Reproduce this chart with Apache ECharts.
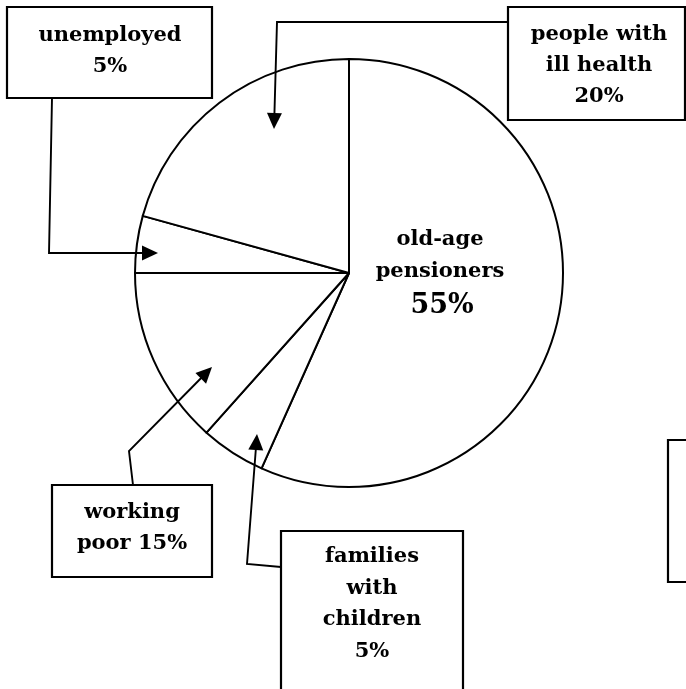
<!DOCTYPE html>
<html>
<head>
<meta charset="utf-8">
<script src="https://cdn.jsdelivr.net/npm/echarts@6/dist/echarts.min.js"></script>
<style>
html,body{margin:0;padding:0;background:#fff;}
#chart{width:686px;height:689px;}
</style>
</head>
<body>
<div id="chart"></div>
<script>
// slice order clockwise from 12 o'clock
const categories = ['old-age pensioners', 'families with children', 'working poor', 'unemployed', 'people with ill health'];
const shares = [56.7, 4.9, 13.4, 4.3, 20.7];
const boxTexts = ['old-age\npensioners', 'families\nwith\nchildren\n5%', 'working\npoor 15%', 'unemployed\n5%', 'people with\nill health\n20%'];
const mainShareText = '55%';

const FONT = 'DejaVu Serif';
const chart = echarts.init(document.getElementById('chart'), null, {renderer: 'canvas'});

function arrow(pts) {
  const els = [];
  const n = pts.length;
  const tip = pts[n - 1], prev = pts[n - 2];
  const dx = tip[0] - prev[0], dy = tip[1] - prev[1];
  const len = Math.sqrt(dx * dx + dy * dy);
  const ux = dx / len, uy = dy / len;
  const L = 16, W = 7.5;
  const bx = tip[0] - ux * L, by = tip[1] - uy * L;
  const linePts = pts.slice(0, n - 1).concat([[bx + ux * 2, by + uy * 2]]);
  els.push({type: 'polyline', z: 100, shape: {points: linePts}, style: {stroke: '#000', lineWidth: 1.9, fill: null}, silent: true});
  els.push({type: 'polygon', z: 100, shape: {points: [tip, [bx - uy * W, by + ux * W], [bx + uy * W, by - ux * W]]}, style: {fill: '#000', stroke: null}, silent: true});
  return els;
}
function box(x, y, w, h) {
  return {type: 'rect', z: 90, shape: {x: x, y: y, width: w, height: h}, style: {fill: '#fff', stroke: '#000', lineWidth: 2.2}, silent: true};
}
function text(t, x, y, size, lh) {
  return {type: 'text', z: 110, x: x, y: y, silent: true,
    style: {text: t, fill: '#000', font: 'bold ' + size + 'px "' + FONT + '"', align: 'center', verticalAlign: 'middle', lineHeight: lh}};
}

const graphics = [].concat(
  [box(7, 7, 205, 91), box(508, 7, 177, 113), box(52, 485, 160, 92), box(281, 531, 182, 200), box(668, 440, 40, 142)],
  arrow([[508, 22], [277, 22], [274, 129]]),
  arrow([[52, 98], [49, 253], [158, 253]]),
  arrow([[133, 485], [129, 451], [212, 367]]),
  arrow([[281, 567], [247, 564], [257, 434]]),
  [
    text(boxTexts[3], 110, 51, 21, 31),
    text(boxTexts[4], 599, 66, 21, 31),
    text(boxTexts[2], 132, 528, 21, 31),
    text(boxTexts[1], 372, 604, 21, 31.6),
    text(boxTexts[0], 440, 256, 21, 32),
    text(mainShareText, 442, 306, 27, 30)
  ]
);

chart.setOption({
  animation: false,
  backgroundColor: '#fff',
  series: [{
    type: 'pie',
    center: [349, 273],
    radius: [0, 214],
    startAngle: 90,
    clockwise: true,
    silent: true,
    label: {show: false},
    labelLine: {show: false},
    itemStyle: {color: '#fff', borderColor: '#000', borderWidth: 2},
    emphasis: {disabled: true},
    data: categories.map((c, i) => ({name: c, value: shares[i]}))
  }],
  graphic: graphics
});
</script>
</body>
</html>
